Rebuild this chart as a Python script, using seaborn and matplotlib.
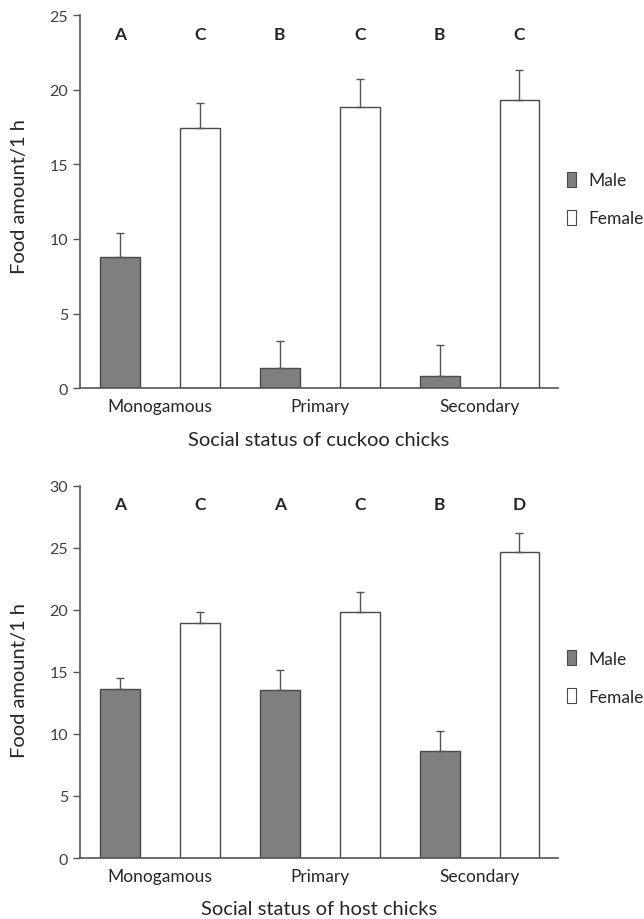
import numpy as np
import pandas as pd
import matplotlib
matplotlib.use('Agg')
import matplotlib.pyplot as plt
from matplotlib.patches import Patch
import seaborn as sns

# Categories
status = ['Monogamous', 'Primary', 'Secondary']
sexes = ['Male', 'Female']

# Cuckoo chicks (top panel)
cuckoo_male = [8.76, 1.34, 0.80]
cuckoo_female = [17.43, 18.81, 19.33]
cuckoo_male_se = [1.65, 1.81, 2.08]
cuckoo_female_se = [1.65, 1.88, 2.00]
cuckoo_letters_male = ['A', 'B', 'B']
cuckoo_letters_female = ['C', 'C', 'C']

# Host chicks (bottom panel)
host_male = [13.62, 13.54, 8.62]
host_female = [18.96, 19.85, 24.63]
host_male_se = [0.91, 1.63, 1.58]
host_female_se = [0.86, 1.55, 1.57]
host_letters_male = ['A', 'A', 'B']
host_letters_female = ['C', 'C', 'D']

sns.set_theme(style='white')
plt.rcParams['font.family'] = ['Lato', 'DejaVu Sans']

colors = {'Male': '#7f7f7f', 'Female': '#ffffff'}
edge = '#4a4a4a'
txt = '#262626'


def panel(ax, male, female, male_se, female_se, let_m, let_f, ymax, letter_y,
          xlabel, leg_y, ylab_y):
    df = pd.DataFrame({
        'status': status * 2,
        'sex': ['Male'] * 3 + ['Female'] * 3,
        'food': male + female,
    })
    sns.barplot(data=df, x='status', y='food', hue='sex', hue_order=sexes,
                order=status, palette=colors, edgecolor=edge, linewidth=1.0,
                width=1.0, gap=0.5, errorbar=None, legend=False, ax=ax)

    # upward-only error bars on top of each bar
    for cont, vals, errs, lets in zip(ax.containers, [male, female],
                                      [male_se, female_se], [let_m, let_f]):
        xs = [b.get_x() + b.get_width() / 2 for b in cont]
        ax.errorbar(xs, vals, yerr=[np.zeros(len(errs)), errs], fmt='none',
                    ecolor='#555555', elinewidth=1.0, capsize=3, capthick=1.0,
                    zorder=1)
        for x, l in zip(xs, lets):
            ax.text(x, letter_y, l, ha='center', va='center', fontsize=12.5,
                    fontweight='bold', color=txt)

    ax.set_xlim(-0.5, 2.49)
    ax.set_ylim(0, ymax)
    ax.set_yticks(np.arange(0, ymax + 1, 5))
    ax.set_xlabel(xlabel, fontsize=14.5, color=txt, labelpad=12)
    ax.set_ylabel('Food amount/1 h', fontsize=14.5, color=txt)
    ax.yaxis.set_label_coords(-0.108, ylab_y)
    ax.tick_params(axis='y', direction='out', length=5, width=1,
                   color='#555555', labelsize=11.5, labelcolor='#404040',
                   left=True)
    ax.tick_params(axis='x', length=0, labelsize=12.5, labelcolor=txt, pad=7)
    sns.despine(ax=ax)
    for s in ['left', 'bottom']:
        ax.spines[s].set_color('#555555')
        ax.spines[s].set_linewidth(1.2)

    handles = [Patch(facecolor=colors[s], edgecolor=edge, linewidth=0.8,
                     label=s) for s in sexes]
    ax.legend(handles=handles, loc='center left',
              bbox_to_anchor=(1.019, leg_y), frameon=False, fontsize=12.5,
              borderpad=0, borderaxespad=0,
              handlelength=0.5, handleheight=0.95, handletextpad=0.75,
              labelspacing=1.25, labelcolor=txt)


fig = plt.figure(figsize=(6.44, 9.2), dpi=100)
ax1 = fig.add_axes([0.1242, 0.577, 0.742, 0.4056])
ax2 = fig.add_axes([0.1242, 0.0663, 0.742, 0.4047])

panel(ax1, cuckoo_male, cuckoo_female, cuckoo_male_se, cuckoo_female_se,
      cuckoo_letters_male, cuckoo_letters_female, 25, 23.7,
      'Social status of cuckoo chicks', 0.507, 0.517)
panel(ax2, host_male, host_female, host_male_se, host_female_se,
      host_letters_male, host_letters_female, 30, 28.5,
      'Social status of host chicks', 0.485, 0.48)

fig.savefig('out.png', dpi=100)
